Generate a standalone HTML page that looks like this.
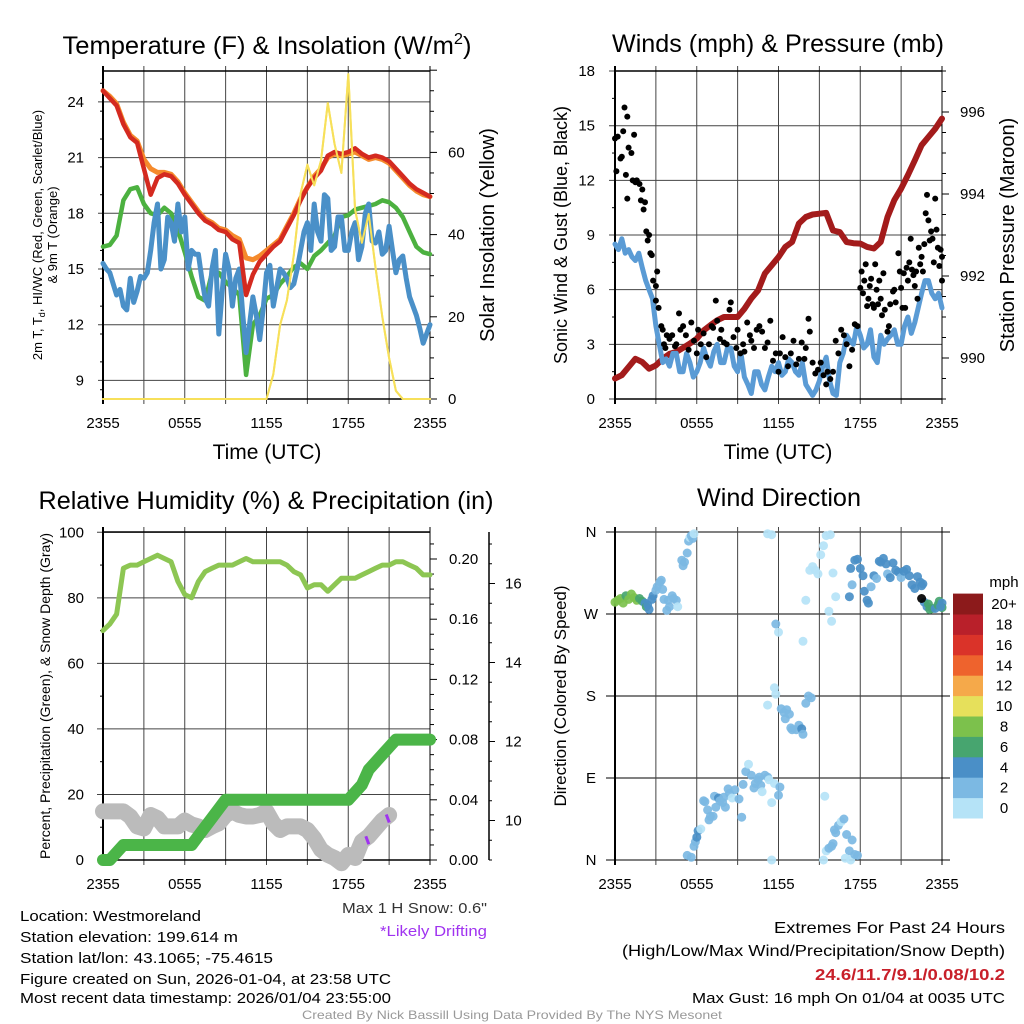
<!DOCTYPE html>
<html><head><meta charset="utf-8"><style>
html,body{margin:0;padding:0;background:#fff;}
svg{display:block;font-family:"Liberation Sans",sans-serif;}
</style></head><body>
<svg id="fig" xmlns="http://www.w3.org/2000/svg" width="1024" height="1024" viewBox="0 0 1024 1024">
<rect width="1024" height="1024" fill="#fff"/>
<g id="p1"></g>
<g id="p2"></g>
<g id="p3"></g>
<g id="p4"></g>

<text x="267" y="54" font-size="25" text-anchor="middle" textLength="409" lengthAdjust="spacingAndGlyphs">Temperature (F) &amp; Insolation (W/m<tspan font-size="16" dy="-10">2</tspan><tspan dy="10">)</tspan></text>
<text x="778" y="52" font-size="25" text-anchor="middle" textLength="332" lengthAdjust="spacingAndGlyphs">Winds (mph) &amp; Pressure (mb)</text>
<text x="266" y="509" font-size="25" text-anchor="middle" textLength="455" lengthAdjust="spacingAndGlyphs">Relative Humidity (%) &amp; Precipitation (in)</text>
<text x="779" y="506" font-size="25" text-anchor="middle" textLength="164" lengthAdjust="spacingAndGlyphs">Wind Direction</text>

<text x="267" y="459" font-size="21" text-anchor="middle">Time (UTC)</text>
<text x="778" y="459" font-size="21" text-anchor="middle">Time (UTC)</text>

<text transform="translate(42,235) rotate(-90)" font-size="13" text-anchor="middle">2m T, T<tspan font-size="9" dy="3">d</tspan><tspan dy="-3">, HI/WC (Red, Green, Scarlet/Blue)</tspan></text>
<text transform="translate(57,235) rotate(-90)" font-size="13" text-anchor="middle">&amp; 9m T (Orange)</text>
<text transform="translate(494,235) rotate(-90)" font-size="20" text-anchor="middle">Solar Insolation (Yellow)</text>
<text transform="translate(567,235) rotate(-90)" font-size="18" text-anchor="middle">Sonic Wind &amp; Gust (Blue, Black)</text>
<text transform="translate(1014,235) rotate(-90)" font-size="20" text-anchor="middle">Station Pressure (Maroon)</text>
<text transform="translate(50,696) rotate(-90)" font-size="14" text-anchor="middle">Percent, Precipitation (Green), &amp; Snow Depth (Gray)</text>
<text transform="translate(566,696) rotate(-90)" font-size="17" text-anchor="middle">Direction (Colored By Speed)</text>

<text x="487" y="913" font-size="15" text-anchor="end" fill="#333" textLength="145" lengthAdjust="spacingAndGlyphs">Max 1 H Snow: 0.6"</text>
<text x="487" y="936" font-size="15" text-anchor="end" fill="#a033f0" textLength="107" lengthAdjust="spacingAndGlyphs">*Likely Drifting</text>

<g font-size="15">
<text x="20" y="921" textLength="181" lengthAdjust="spacingAndGlyphs">Location: Westmoreland</text>
<text x="20" y="942" textLength="218" lengthAdjust="spacingAndGlyphs">Station elevation: 199.614 m</text>
<text x="20" y="963" textLength="253" lengthAdjust="spacingAndGlyphs">Station lat/lon: 43.1065; -75.4615</text>
<text x="20" y="984" textLength="371" lengthAdjust="spacingAndGlyphs">Figure created on Sun, 2026-01-04, at 23:58 UTC</text>
<text x="20" y="1003" textLength="371" lengthAdjust="spacingAndGlyphs">Most recent data timestamp: 2026/01/04 23:55:00</text>
</g>
<g font-size="16" text-anchor="end">
<text x="1005" y="933" textLength="231" lengthAdjust="spacingAndGlyphs">Extremes For Past 24 Hours</text>
<text x="1005" y="956" textLength="383" lengthAdjust="spacingAndGlyphs">(High/Low/Max Wind/Precipitation/Snow Depth)</text>
<text x="1005" y="980" font-weight="bold" fill="#c8202a" textLength="190" lengthAdjust="spacingAndGlyphs">24.6/11.7/9.1/0.08/10.2</text>
<text x="1005" y="1003" font-size="15" textLength="313" lengthAdjust="spacingAndGlyphs">Max Gust: 16 mph On 01/04 at 0035 UTC</text>
</g>
<text x="512" y="1019" font-size="12" fill="#999" text-anchor="middle" textLength="420" lengthAdjust="spacingAndGlyphs">Created By Nick Bassill Using Data Provided By The NYS Mesonet</text>
</svg>
<script>
// ---------- DATA ----------
const hours = [];
for (let i = 0; i <= 48; i++) hours.push(i / 2);
const timeTickLabels = ["2355","0555","1155","1755","2355"];
const timeTickHours = [0, 6, 12, 18, 24];

const tempF = [24.6,24.2,23.8,22.8,22.1,21.8,20.4,19.0,19.9,20.1,20.0,19.6,19.0,18.5,18.0,17.6,17.4,17.1,17.0,16.6,16.4,13.6,14.7,15.4,15.8,16.2,16.5,17.2,17.9,18.7,19.4,19.9,20.3,21.1,21.3,21.2,21.3,21.5,21.2,21.0,21.1,21.0,20.8,20.4,20.0,19.6,19.3,19.1,18.9];
const temp9mF = [24.6,24.3,23.9,22.9,22.2,21.9,20.9,20.4,20.2,20.2,20.1,19.7,19.1,18.6,18.1,17.7,17.5,17.2,17.1,16.8,16.6,15.6,15.5,15.7,16.0,16.3,16.6,17.3,18.0,18.8,19.4,20.0,20.4,21.0,21.2,21.1,21.2,21.3,21.1,20.9,21.0,20.9,20.7,20.3,19.9,19.5,19.2,19.0,18.9];
const dewF = [16.2,16.3,16.8,18.7,19.3,19.4,18.5,18.0,17.9,18.3,18.0,17.1,15.9,14.6,13.5,13.3,14.8,14.8,14.3,14.0,13.6,9.3,12.0,12.5,13.4,13.6,14.2,14.6,15.1,15.3,15.0,15.7,16.0,16.4,16.8,17.8,17.9,18.2,18.3,18.4,18.5,18.7,18.6,18.3,17.8,17.0,16.2,15.9,15.8];
// quarter-hourly (97 values, 0..24 h)
const windChillF = [15.3,15.0,14.8,14.2,13.6,13.9,13.0,12.8,14.5,13.2,13.8,14.6,14.5,14.8,16.0,17.5,18.5,15.0,15.5,17.8,17.5,16.5,18.5,17.0,17.8,15.0,16.0,15.8,15.8,14.5,13.4,13.0,15.0,16.0,11.5,13.8,15.8,15.0,13.0,14.5,15.0,12.6,10.5,12.0,13.5,12.5,11.2,12.8,14.8,15.2,13.0,14.0,15.0,14.8,14.5,14.0,14.2,15.0,16.0,17.0,17.5,16.0,18.5,17.0,16.5,19.0,18.8,16.0,16.2,17.8,17.8,16.0,16.0,17.0,17.5,15.5,16.2,18.0,18.5,16.5,16.4,17.0,15.8,16.0,17.3,16.0,14.8,15.5,15.7,14.5,13.5,13.0,12.5,11.8,11.0,11.5,12.0];
const insolation = [0,0,0,0,0,0,0,0,0,0,0,0,0,0,0,0,0,0,0,0,0,0,0,0,0,6,18,24,35,50,57,52,58,72,62,55,79,46,38,45,32,20,10,2,0,0,0,0,0];

// quarter-hourly (97 values)
const windMph = [8.5,8.2,8.8,8.0,8.2,7.8,7.6,8.0,7.2,6.5,6.0,5.5,4.0,3.0,2.0,2.2,1.8,2.5,2.5,1.5,1.5,2.5,2.0,1.2,1.5,2.0,2.8,2.2,1.8,2.6,3.0,2.0,2.0,2.8,2.8,1.8,1.5,2.5,1.2,0.8,0.3,1.5,1.5,0.8,0.5,1.2,1.8,1.5,2.0,1.3,1.5,2.2,2.0,1.5,1.3,2.0,0.8,0.5,0.2,0.5,1.0,1.8,2.3,1.0,0.3,0.2,2.0,2.5,3.5,3.2,3.0,4.0,3.5,2.8,3.0,3.8,2.3,2.0,3.5,3.0,3.3,3.5,3.8,3.0,3.0,4.0,4.5,3.6,4.2,5.0,5.8,6.5,6.5,5.8,5.5,5.8,5.0];
const pressureMb = [989.5,989.58,989.78,989.98,989.9,989.74,989.82,989.98,990.1,990.15,990.25,990.35,990.47,990.67,990.8,990.92,991.0,991.0,991.0,991.2,991.45,991.65,992.06,992.26,992.46,992.71,992.83,993.28,993.44,993.5,993.52,993.54,993.11,993.07,992.83,992.8,992.79,992.71,992.67,992.83,993.44,993.85,994.13,994.46,994.82,995.19,995.39,995.59,995.84];
const gustHours = [0,0.1,0.2,0.4,0.5,0.6,0.7,0.8,0.9,0.9,1.0,1.2,1.3,1.4,1.5,1.6,1.8,1.9,2.0,2.1,2.2,2.3,2.4,2.5,2.6,2.7,2.8,3.0,3.0,3.1,3.2,3.4,3.5,3.6,3.7,3.8,4.0,4.2,4.4,4.5,4.7,4.8,5.0,5.2,5.4,5.6,5.8,6.0,6.1,6.3,6.5,6.7,6.9,7.1,7.2,7.4,7.5,7.7,7.8,8.0,8.2,8.4,8.5,8.7,8.9,9.0,9.2,9.4,9.5,9.7,9.9,10.0,10.2,10.4,10.6,10.8,11.0,11.2,11.4,11.6,11.8,12.0,12.1,12.3,12.5,12.7,12.9,13.1,13.3,13.5,13.7,13.9,14.0,14.2,14.3,14.5,14.7,14.9,15.1,15.3,15.5,15.6,15.8,16.0,16.2,16.4,16.6,16.8,17.0,17.2,17.4,17.6,17.8,18.0,18.1,18.2,18.3,18.4,18.5,18.6,18.7,18.8,18.9,19.0,19.1,19.2,19.3,19.4,19.5,19.6,19.7,19.8,20.0,20.1,20.2,20.4,20.5,20.6,20.8,20.9,21.0,21.1,21.2,21.3,21.4,21.5,21.6,21.7,21.8,21.9,22.0,22.1,22.2,22.3,22.4,22.5,22.6,22.7,22.8,22.9,23.0,23.1,23.2,23.3,23.4,23.5,23.6,23.7,23.8,23.9,24.0,24.0];
const gustMph = [14.3,12.5,14.4,13.2,13.3,14.7,16.0,12.3,11.0,15.5,13.8,13.5,12.0,14.5,11.9,12.0,11.8,10.9,11.5,10.4,10.8,9.2,8.7,9.0,8.0,7.9,6.5,6.2,5.4,7.0,5.0,4.0,3.8,3.0,2.8,3.5,3.3,3.5,2.9,3.0,4.7,3.8,4.0,3.5,2.7,4.2,3.2,2.5,3.8,3.0,3.6,2.3,3.0,4.0,3.9,5.4,4.3,3.3,3.8,3.1,3.0,4.9,5.3,3.4,2.8,3.8,2.5,3.0,2.6,4.2,3.5,3.2,2.8,3.8,4.0,3.7,2.8,3.1,4.3,2.1,2.5,1.5,2.5,3.4,2.3,1.8,2.5,3.2,1.9,2.2,3.1,2.2,2.8,4.4,3.7,2.0,1.4,1.6,2.0,1.3,0.8,1.5,1.1,1.5,3.2,2.5,3.8,3.5,3.0,1.8,2.7,4.1,4.0,6.1,7.0,5.8,6.5,7.4,5.1,5.5,6.2,6.6,5.2,5.0,7.4,6.0,5.2,6.5,5.5,4.6,6.9,4.9,3.7,4.0,5.2,5.9,6.0,5.3,8.0,7.0,6.1,5.0,6.9,5.0,7.2,6.5,7.5,8.8,7.1,6.8,6.2,7.0,5.5,8.3,7.4,7.8,7.0,8.5,10.2,11.2,9.8,8.7,9.2,8.8,7.5,11.0,9.3,8.3,7.3,8.2,7.8,6.5];

const rhPct = [70,72,75,89,90,90,91,92,93,92,91,85,81,80,85,88,89,90,90,90,91,92,91,91,91,91,91,90,88,87,83,84,84,82,84,86,86,86,87,88,89,90,90,91,91,90,89,87,87];
const precipIn = [0,0,0.005,0.01,0.01,0.01,0.01,0.01,0.01,0.01,0.01,0.01,0.01,0.01,0.016,0.022,0.028,0.034,0.04,0.04,0.04,0.04,0.04,0.04,0.04,0.04,0.04,0.04,0.04,0.04,0.04,0.04,0.04,0.04,0.04,0.04,0.04,0.045,0.05,0.06,0.065,0.07,0.075,0.08,0.08,0.08,0.08,0.08,0.08];
const snowDepthIn = [10.23,10.23,10.23,10.23,10.1,9.85,9.8,10.14,10.06,9.85,9.85,9.85,10.0,9.9,9.85,9.76,9.85,9.93,10.14,10.23,10.14,10.1,10.1,10.14,10.23,9.93,9.76,9.85,9.85,9.85,9.76,9.55,9.26,9.13,9.05,8.92,9.13,9.05,9.47,9.6,9.8,10.0,10.14,null,null,null,null,null,null];
const driftHours = [19.4, 20.9];
const driftDepth = [9.5, 10.05];

const dirHours = [0.0,0.2,0.4,0.6,0.8,1.0,1.2,1.4,1.6,1.8,2.0,2.2,2.3,2.4,2.5,2.7,2.8,3.0,3.1,3.3,3.4,3.5,3.6,3.8,3.9,4.0,4.2,4.3,4.5,4.6,4.9,5.0,5.1,5.3,5.4,5.5,5.6,5.7,5.8,5.3,5.6,5.8,5.9,6.0,6.1,6.3,6.5,6.6,6.8,6.9,7.0,7.2,7.3,7.4,7.6,7.7,7.9,8.0,8.1,8.3,8.4,8.6,8.8,9.1,9.3,9.4,9.6,9.8,10.0,10.2,10.3,10.5,10.6,10.7,10.8,11.0,11.2,11.3,11.5,11.7,12.0,12.1,11.5,11.2,11.5,11.8,12.0,11.2,11.7,11.8,12.2,12.4,12.5,12.6,12.8,12.9,13.0,13.3,13.5,13.7,13.8,14.0,14.2,14.4,13.8,14.0,14.3,14.5,14.7,14.9,15.1,15.3,15.5,15.7,15.9,16.2,16.0,15.8,15.4,15.3,15.5,15.7,15.9,16.0,16.1,16.2,16.4,16.6,16.8,17.0,17.2,16.9,17.3,17.4,17.6,17.8,17.2,17.3,17.4,17.6,17.8,18.0,18.2,18.3,18.5,18.6,18.8,19.0,19.2,19.4,19.5,19.7,19.9,20.0,20.2,20.4,20.6,20.8,21.0,21.2,21.4,21.6,21.8,22.0,22.2,22.4,22.5,22.6,22.7,22.9,23.0,23.1,23.3,23.5,23.7,23.8,24.0,24.0,23.9,22.5];
const dirDeg = [283,285,287,282,290,286,292,288,285,287,284,282,278,280,275,286,290,296,300,305,307,297,286,274,285,278,290,287,285,278,329,323,327,337,350,354,356,353,358,5,3,15,20,25,32,34,65,64,55,44,48,48,70,58,68,65,63,69,58,78,73,68,77,67,47,83,97,105,93,79,84,88,91,82,75,93,91,88,63,84,71,80,0,358,357,259,250,170,189,182,166,162,155,165,160,145,143,143,148,144,138,172,180,178,240,285,318,322,318,314,335,345,356,273,262,289,315,357,70,0,10,13,15,18,33,30,38,42,45,28,10,2,0,22,6,5,289,320,302,329,330,320,312,295,285,282,300,312,309,328,327,331,325,314,310,326,318,316,310,317,319,312,302,298,311,305,301,303,283,278,281,275,276,276,280,284,282,277,278,287];
const dirSpeed = [8,8,8,8,7,8,8,8,8,6,7,5,6,4,4,4,4,3,3,3,3,2,2,2,2,2,2,2,2,1,2,2,2,3,2,1,2,3,1,2,3,3,2,4,4,1,2,2,2,2,2,3,3,3,4,2,3,2,2,2,3,1,2,3,3,3,2,1,2,3,2,2,3,2,1,3,3,1,1,1,3,3,0,0,0,2,1,1,1,1,2,2,2,2,3,2,2,2,2,4,3,2,3,2,1,1,1,1,1,0,0,0,0,0,0,0,0,0,0,1,1,2,3,3,2,2,2,1,3,2,2,0,1,2,3,3,4,4,2,4,4,4,4,4,4,4,3,4,3,4,4,4,4,3,4,4,4,4,3,4,4,4,4,4,4,4,4,4,4,4,6,6,6,5,6,6,4,7,4];
const speedBinLabels = ["0","2","4","6","8","10","12","14","16","18","20+"];
const speedBinColors = ["#b5e3f7","#7cb9e3","#4a8fc7","#47a56f","#7cc14c","#e6e05b","#f5a94a","#ee632d","#da3329","#b9202a","#8c1a1b"];

// ---------- HELPERS ----------
const NS = "http://www.w3.org/2000/svg";
function mk(parent, tag, attrs) {
  const e = document.createElementNS(NS, tag);
  for (const k in attrs) e.setAttribute(k, attrs[k]);
  parent.appendChild(e);
  return e;
}
function evenHours(n) { const a = []; for (let i = 0; i < n; i++) a.push(i * 24 / (n - 1)); return a; }
function xT(x0, t) { return x0 + t / 24 * 327; }
function pathFrom(xs, ys, xf, yf) {
  let d = "", pen = false;
  for (let i = 0; i < xs.length; i++) {
    if (ys[i] === null || ys[i] === undefined) { pen = false; continue; }
    d += (pen ? "L" : "M") + xf(xs[i]).toFixed(1) + "," + yf(ys[i]).toFixed(1);
    pen = true;
  }
  return d;
}
function series(g, name, xs, ys, xf, yf, color, w) {
  const e = mk(g, "path", {d: pathFrom(xs, ys, xf, yf), fill: "none", stroke: color, "stroke-width": w, "stroke-linejoin": "round", "stroke-linecap": "round"});
  
  
  return e;
}
function label(g, name, x, y, txt, anchor, size, fill) {
  const e = mk(g, "text", {x: x, y: y, "text-anchor": anchor, "font-size": size || 15, fill: fill || "#000"});
  e.textContent = txt;
  
  
  return e;
}
function seg(g, name, x1, y1, x2, y2, color, w) {
  const e = mk(g, "line", {x1: x1, y1: y1, x2: x2, y2: y2, stroke: color || "#000", "stroke-width": w || 1});
  
  
  return e;
}
function frame(g, prefix, x0, x1, yTop, yBot, tickY) {
  for (let h = 0; h <= 24; h += 3) {
    const x = xT(x0, h);
    seg(g, prefix + "-vgrid", x, yTop - 5, x, yBot + 5, h === 0 || h === 24 ? "#000" : "#444", h === 0 ? 2 : 1);
  }
  for (let i = 0; i < timeTickHours.length; i++) {
    label(g, prefix + "-x-tick-label", xT(x0, timeTickHours[i]), tickY, timeTickLabels[i], "middle", 15);
  }
}

// ---------- PANEL 1 ----------
(function () {
  const g = document.getElementById("p1");
  const x0 = 103, x1 = 430, yTop = 71, yBot = 399;
  const yL = v => 399 - (v - 8) * 18.57;
  const yR = v => 399 - v * 4.11;
  const xf = t => xT(x0, t);
  for (let v = 9; v <= 24; v += 3) {
    seg(g, "p1-hgrid", x0 - 5, yL(v), x1, yL(v), "#444", 1);
    label(g, "p1-y-tick-label", 84, yL(v) + 5, String(v), "end", 15);
  }
  for (let v = 8.5; v <= 25.5; v += 1.5) seg(g, "p1-y-minor-tick", x0 - 3, yL(v), x0, yL(v), "#000", 1);
  frame(g, "p1", x0, x1, yTop, yBot, 428);
  seg(g, "p1-top-spine", x0, yTop, x1, yTop, "#000", 1.5);
  seg(g, "p1-bottom-spine", x0, yBot, x1, yBot, "#000", 1.5);
  for (let v = 0; v <= 80; v += 5) seg(g, "p1-right-tick", x1, yR(v), x1 + (v % 20 === 0 ? 7 : 4), yR(v), "#000", 1);
  for (let v = 0; v <= 60; v += 20) label(g, "p1-right-tick-label", 448, yR(v) + 5, String(v), "start", 15);
  series(g, "insolation-line", hours, insolation, xf, yR, "#f7e05a", 2);
  series(g, "dewpoint-line", hours, dewF, xf, yL, "#4cb140", 4.5);
  series(g, "windchill-line", evenHours(windChillF.length), windChillF, xf, yL, "#4a90c8", 5);
  series(g, "temp-9m-line", hours, temp9mF, xf, yL, "#f58a2c", 5);
  series(g, "temp-2m-line", hours, tempF, xf, yL, "#d42a20", 4.5);
  series(g, "insolation-line-top", hours, insolation, xf, yR, "#f7e05a", 2);
})();

// ---------- PANEL 2 ----------
(function () {
  const g = document.getElementById("p2");
  const x0 = 615, x1 = 942, yTop = 71, yBot = 399;
  const yL = v => 399 - v * 18.22;
  const yR = p => 399 - (p - 989) * 41;
  const xf = t => xT(x0, t);
  for (let v = 0; v <= 18; v += 3) {
    seg(g, "p2-hgrid", x0 - 6, yL(v), x1, yL(v), "#444", 1);
    label(g, "p2-y-tick-label", 595, yL(v) + 5, String(v), "end", 15);
  }
  for (let v = 1.5; v <= 18; v += 3) seg(g, "p2-y-minor-tick", x0 - 3, yL(v), x0, yL(v), "#000", 1);
  frame(g, "p2", x0, x1, yTop, yBot, 428);
  seg(g, "p2-top-spine", x0, yTop, x1, yTop, "#000", 1.5);
  seg(g, "p2-bottom-spine", x0, yBot, x1, yBot, "#000", 1.5);
  for (let p = 989; p <= 997; p += 0.5) seg(g, "p2-right-tick", x1, yR(p), x1 + (p % 2 === 0 ? 7 : 4), yR(p), "#000", 1);
  for (let p = 990; p <= 996; p += 2) label(g, "p2-right-tick-label", 960, yR(p) + 5, String(p), "start", 15);
  series(g, "pressure-line", hours, pressureMb, xf, yR, "#a31b1b", 6);
  series(g, "wind-speed-line", evenHours(windMph.length), windMph, xf, yL, "#5a9bd5", 5);
  for (let i = 0; i < gustHours.length; i++) {
    const c = mk(g, "circle", {cx: xf(gustHours[i]).toFixed(1), cy: yL(gustMph[i]).toFixed(1), r: 3, fill: "#000"});
    
    
  }
})();

// ---------- PANEL 3 ----------
(function () {
  const g = document.getElementById("p3");
  const x0 = 103, x1 = 430, yTop = 532, yBot = 860;
  const yL = v => 860 - v * 3.277;
  const yP = v => 860 - v * 1505;
  const yS = v => 860 - (v - 9) * 39.5;
  const xf = t => xT(x0, t);
  for (let v = 0; v <= 100; v += 20) {
    seg(g, "p3-hgrid", x0 - 6, yL(v), x1, yL(v), "#444", 1);
    label(g, "p3-y-tick-label", 84, yL(v) + 5, String(v), "end", 15);
  }
  for (let v = 10; v <= 100; v += 20) seg(g, "p3-y-minor-tick", x0 - 3, yL(v), x0, yL(v), "#000", 1);
  frame(g, "p3", x0, x1, yTop, yBot, 889);
  seg(g, "p3-top-spine", x0, yTop, x1, yTop, "#000", 1.5);
  seg(g, "p3-bottom-spine", x0, yBot, x1, yBot, "#000", 1.5);
  for (let k = 0; k <= 21; k++) { const v = k * 0.01; seg(g, "p3-precip-tick", x1, yP(v), x1 + (k % 4 === 0 ? 7 : 4), yP(v), "#000", 1); }
  for (let k = 0; k <= 5; k++) label(g, "p3-precip-tick-label", 449, yP(k * 0.04) + 5, (k * 0.04).toFixed(2), "start", 15);
  seg(g, "snow-axis-spine", 489, yTop, 489, yBot, "#000", 1.5);
  for (let v = 9; v <= 17; v += 0.5) seg(g, "snow-axis-tick", 489, yS(v), 489 + (v % 2 === 0 ? 6 : 3), yS(v), "#000", 1);
  for (let v = 10; v <= 16; v += 2) label(g, "snow-axis-tick-label", 505, yS(v) + 5, String(v), "start", 15);
  series(g, "snow-depth-line", hours, snowDepthIn, xf, yS, "#bbbbbb", 16);
  series(g, "precip-line", hours, precipIn, xf, yP, "#4bb548", 12);
  series(g, "rh-line", hours, rhPct, xf, yL, "#8dc653", 5);
  for (let i = 0; i < driftHours.length; i++) {
    seg(g, "drift-marker", xf(driftHours[i]) - 1.5, yS(driftDepth[i]) - 4, xf(driftHours[i]) + 1.5, yS(driftDepth[i]) + 4, "#a033f0", 3);
  }
})();

// ---------- PANEL 4 ----------
(function () {
  const g = document.getElementById("p4");
  const x0 = 615, x1 = 942, yTop = 532, yBot = 860;
  const yD = d => 860 - d * (328 / 360);
  const xf = t => xT(x0, t);
  const dirLabels = ["N", "E", "S", "W", "N"];
  for (let k = 0; k <= 4; k++) {
    seg(g, "p4-hgrid", 606, yD(k * 90), 950, yD(k * 90), "#000", 1);
    label(g, "p4-y-tick-label", 591, yD(k * 90) + 5, dirLabels[k], "middle", 15);
  }
  frame(g, "p4", x0, x1, yTop, yBot, 889);
  for (let i = 0; i < dirHours.length; i++) {
    const bin = Math.min(10, Math.floor(dirSpeed[i] / 2));
    const c = mk(g, "circle", {cx: xf(dirHours[i]).toFixed(1), cy: yD(dirDeg[i]).toFixed(1), r: 4.5, fill: speedBinColors[bin], "fill-opacity": 0.92});
    
    
  }
  label(g, "colorbar-title", 1004, 587, "mph", "middle", 15);
  for (let b = 0; b < speedBinColors.length; b++) {
    const yb = 818 - (b + 1) * 20.4;
    const r = mk(g, "rect", {x: 953, y: yb.toFixed(1), width: 30, height: 20.9, fill: speedBinColors[b]});
    
    
    label(g, "colorbar-label", 1004, yb + 15.5, speedBinLabels[b], "middle", 15);
  }
})();
</script>
</body></html>
